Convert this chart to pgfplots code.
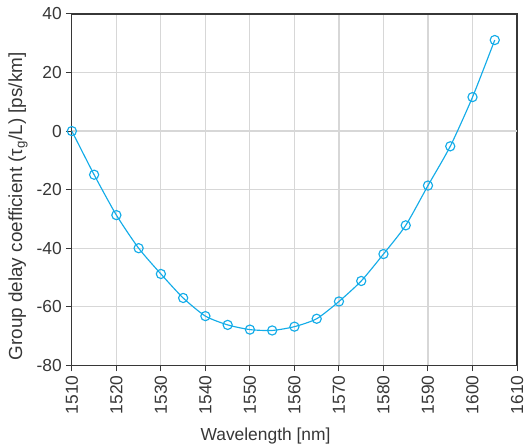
\documentclass[border=0pt]{standalone}
\usepackage{pgfplots}
\pgfplotsset{compat=1.18}
\usepackage{fontspec}
\setmainfont{Liberation Sans}
\definecolor{lineblue}{RGB}{20,172,232}
\definecolor{axgray}{RGB}{55,55,55}
\definecolor{gridgray}{RGB}{215,215,215}
\begin{document}
\begin{tikzpicture}
\begin{axis}[
  at={(0,0)}, anchor=south west,
  scale only axis,
  width=446bp, height=352bp,
  xmin=1510, xmax=1610, ymin=-80, ymax=40,
  xtick={1510,1520,...,1610},
  ytick={-80,-60,...,40},
  grid=major,
  major grid style={gridgray, line width=1.1bp},
  axis line style={axgray, line width=1.1bp},
  tick style={axgray, line width=1bp},
  tick align=outside,
  major tick length=6bp,
  xtick pos=bottom, ytick pos=left,
  /pgf/number format/assume math mode=true,
  /pgf/number format/1000 sep={},
  tick label style={font=\fontsize{17.5}{18}\selectfont, text=axgray, inner sep=0pt},
  yticklabel style={anchor=east, xshift=-4bp},
  xticklabel style={rotate=90, anchor=east, xshift=-4bp},
  xlabel={Wavelength [nm]},
  ylabel={Group delay coefficient (τ\textsubscript{g}/L) [ps/km]},
  xlabel style={font=\fontsize{17.5}{18}\selectfont, text=axgray,
    at={(axis description cs:0.435,-0.202)}, anchor=center},
  ylabel style={font=\fontsize{19}{20}\selectfont, text=axgray,
    at={(axis description cs:-0.121,0.452)}, anchor=center},
  clip=false,
]
\draw[gridgray, line width=2.2bp] (axis cs:1510,0) -- (axis cs:1610,0);
\addplot[lineblue, line width=1.15bp, smooth, tension=0.4, mark=o, mark size=4.6bp,
  mark options={fill=white, line width=1.15bp, solid}] coordinates {
(1510,0) (1515,-14.9) (1520,-28.7) (1525,-40.0) (1530,-48.8) (1535,-57.0)
(1540,-63.2) (1545,-66.2) (1550,-67.8) (1555,-68.1) (1560,-66.8) (1565,-64.1)
(1570,-58.2) (1575,-51.2) (1580,-42.0) (1585,-32.2) (1590,-18.6) (1595,-5.2)
(1600,11.6) (1605,31.1)
};
\end{axis}
\pgfresetboundingbox
\path[use as bounding box] (-72bp,-82bp) rectangle (456bp,366bp);
\end{tikzpicture}
\end{document}
